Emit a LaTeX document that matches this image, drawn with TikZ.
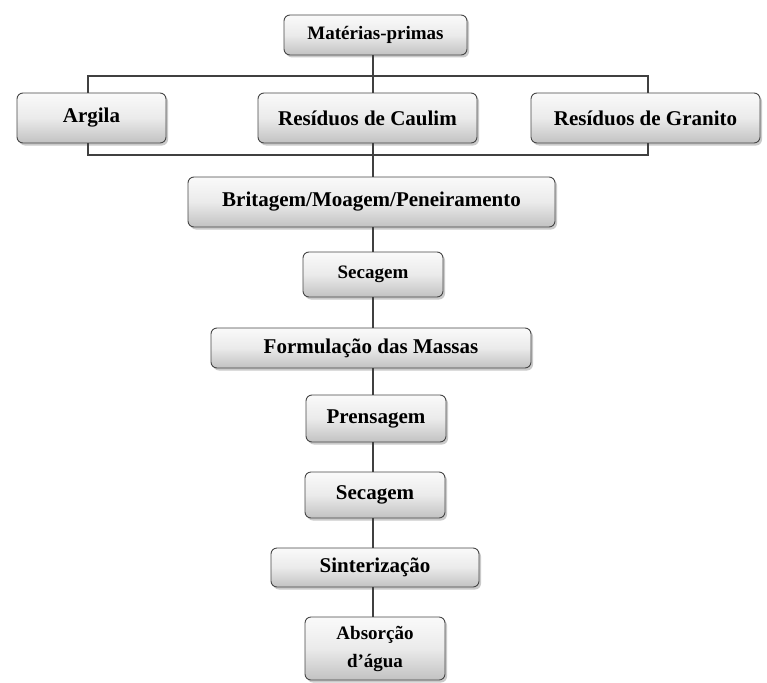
\documentclass[tikz,border=0pt]{standalone}
\usepackage{fontspec}
\setmainfont{Liberation Serif}
\usetikzlibrary{shadows}
\tikzset{
  boxa/.style={draw=gray!55!black, line width=0.9pt, rounded corners=6pt,
    top color=gray!4, bottom color=gray!48, middle color=gray!16,
    drop shadow={shadow xshift=2pt, shadow yshift=-2.5pt, fill=gray!70, opacity=0.6},
    inner sep=0pt, align=center, font=\bfseries\fontsize{21}{22}\selectfont},
  smallfont/.style={font=\bfseries\fontsize{19}{28}\selectfont},
  link/.style={draw=black!75, line width=1.3pt}
}
\begin{document}
\begin{tikzpicture}[x=1pt,y=1pt]
\useasboundingbox (0,0) rectangle (767,-682);
\node[boxa, smallfont, minimum width=183pt, minimum height=40pt] (mp) at (375.5,-35) {Matérias-primas};
\node[boxa, minimum width=149pt, minimum height=50pt] (argila) at (91.5,-118) {Argila};
\node[boxa, minimum width=219pt, minimum height=50pt] (caulim) at (367.5,-118) {Resíduos de Caulim};
\node[boxa, minimum width=229pt, minimum height=50pt] (granito) at (645.5,-118) {Resíduos de Granito};
\node[boxa, minimum width=367pt, minimum height=50pt] (brit) at (371.5,-202) {Britagem/Moagem/Peneiramento};
\node[boxa, smallfont, minimum width=140pt, minimum height=45pt] (sec1) at (373,-274.5) {Secagem};
\node[boxa, minimum width=320pt, minimum height=40pt] (form) at (371,-348) {Formulação das Massas};
\node[boxa, minimum width=140pt, minimum height=47pt] (pren) at (376,-418.5) {Prensagem};
\node[boxa, minimum width=140pt, minimum height=46pt] (sec2) at (375,-495) {Secagem};
\node[boxa, minimum width=208pt, minimum height=39pt] (sint) at (375,-567.5) {Sinterização};
\node[boxa, smallfont, minimum width=140pt, minimum height=63pt] (abs) at (375,-648.5) {Absorção\\d’água};
\coordinate (tl) at (88,-76);
\coordinate (tr) at (648,-76);
\coordinate (bl) at (88,-155);
\coordinate (br) at (648,-155);
\coordinate (sp) at (373,0);
\draw[link] (argila.north -| tl) -- (tl) -- (tr) -- (granito.north -| tr);
\draw[link] (mp.south -| sp) -- (caulim.north -| sp);
\draw[link] (argila.south -| bl) -- (bl) -- (br) -- (granito.south -| br);
\draw[link] (caulim.south -| sp) -- (brit.north -| sp);
\draw[link] (brit.south -| sp) -- (sec1.north -| sp);
\draw[link] (sec1.south -| sp) -- (form.north -| sp);
\draw[link] (form.south -| sp) -- (pren.north -| sp);
\draw[link] (pren.south -| sp) -- (sec2.north -| sp);
\draw[link] (sec2.south -| sp) -- (sint.north -| sp);
\draw[link] (sint.south -| sp) -- (abs.north -| sp);
\end{tikzpicture}
\end{document}
